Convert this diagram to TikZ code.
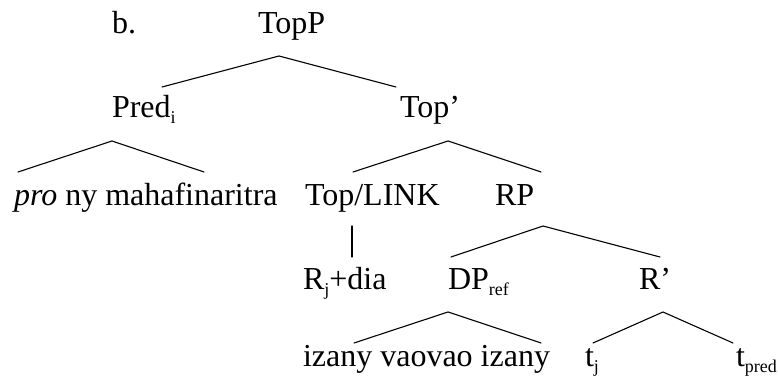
\documentclass[tikz,border=0pt]{standalone}
\usepackage{fontspec}
\setmainfont{Liberation Serif}
\newcommand{\lbl}[1]{\raisebox{-6pt}{\fontsize{18}{20}\selectfont #1}}
\begin{document}
\begin{tikzpicture}[x=1pt,y=1pt,
  lab/.style={anchor=base west,inner sep=0pt,outer sep=0pt,font=\fontsize{32}{38}\selectfont},
  branch/.style={line width=1.1pt,line cap=round}]
\useasboundingbox (0,0) rectangle (778,382);
% labels
\node[lab] (b) at (112,348) {b.};
\node[lab] (topp) at (258,348) {TopP};
\node[lab] (pred) at (112,264) {Pred\lbl{i}};
\node[lab] (topbar) at (400,264) {Top’};
\node[lab] (pro) at (14,176) {\textit{pro} ny mahafinaritra};
\node[lab] (link) at (305,176) {Top/LINK};
\node[lab] (rp) at (495,176) {RP};
\node[lab] (rdia) at (303,92) {R\lbl{j}+dia};
\node[lab] (dp) at (448,92) {DP\lbl{ref}};
\node[lab] (rbar) at (639,92) {R’};
\node[lab] (izany) at (303,15) {izany vaovao izany};
\node[lab] (tj) at (585,15) {t\lbl{j}};
\node[lab] (tpred) at (736,15) {t\lbl{pred}};
% branch points
\coordinate (toppA) at (279,326); \coordinate (toppL) at (162,295); \coordinate (toppR) at (396,295);
\coordinate (predA) at (112,241); \coordinate (predL) at (18,210); \coordinate (predR) at (204,210);
\coordinate (topbarA) at (448,241); \coordinate (topbarL) at (353,210); \coordinate (topbarR) at (541,210);
\coordinate (linkA) at (352,156); \coordinate (linkB) at (352,125);
\coordinate (rpA) at (543,156); \coordinate (rpL) at (451,125); \coordinate (rpR) at (660,125);
\coordinate (dpA) at (448,70); \coordinate (dpL) at (354,39); \coordinate (dpR) at (541,39);
\coordinate (rbarA) at (663,70); \coordinate (rbarL) at (593,39); \coordinate (rbarR) at (733,39);
% branches
\draw[branch] (toppL) -- (toppA) -- (toppR);
\draw[branch] (predL) -- (predA) -- (predR);
\draw[branch] (topbarL) -- (topbarA) -- (topbarR);
\draw[branch] (linkA) -- (linkB);
\draw[branch] (rpL) -- (rpA) -- (rpR);
\draw[branch] (dpL) -- (dpA) -- (dpR);
\draw[branch] (rbarL) -- (rbarA) -- (rbarR);
\end{tikzpicture}
\end{document}
